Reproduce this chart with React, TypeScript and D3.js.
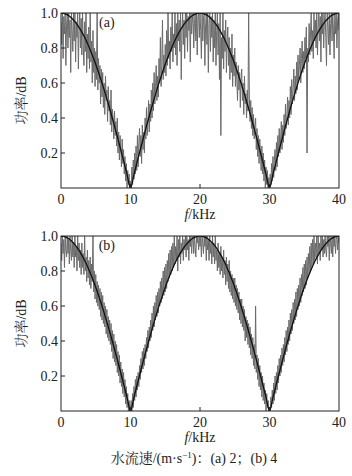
import React from "react";
import * as d3 from "d3";

const fSmooth = [
  0, 0.5, 1, 1.5, 2, 2.5, 3, 3.5, 4, 4.5, 5, 5.5, 6, 6.5, 7, 7.5, 8, 8.5, 9, 9.5, 10,
  10.5, 11, 11.5, 12, 12.5, 13, 13.5, 14, 14.5, 15, 15.5, 16, 16.5, 17, 17.5, 18, 18.5, 19, 19.5, 20,
  20.5, 21, 21.5, 22, 22.5, 23, 23.5, 24, 24.5, 25, 25.5, 26, 26.5, 27, 27.5, 28, 28.5, 29, 29.5, 30,
  30.5, 31, 31.5, 32, 32.5, 33, 33.5, 34, 34.5, 35, 35.5, 36, 36.5, 37, 37.5, 38, 38.5, 39, 39.5, 40,
];
const smoothValues = [
  1.0, 0.997, 0.988, 0.972, 0.951, 0.924, 0.891, 0.853, 0.809, 0.76, 0.707, 0.649, 0.588, 0.522, 0.454, 0.383, 0.309, 0.233, 0.156, 0.078, 0.0,
  0.078, 0.156, 0.233, 0.309, 0.383, 0.454, 0.522, 0.588, 0.649, 0.707, 0.76, 0.809, 0.853, 0.891, 0.924, 0.951, 0.972, 0.988, 0.997, 1.0,
  0.997, 0.988, 0.972, 0.951, 0.924, 0.891, 0.853, 0.809, 0.76, 0.707, 0.649, 0.588, 0.522, 0.454, 0.383, 0.309, 0.233, 0.156, 0.078, 0.0,
  0.078, 0.156, 0.233, 0.309, 0.383, 0.454, 0.522, 0.588, 0.649, 0.707, 0.76, 0.809, 0.853, 0.891, 0.924, 0.951, 0.972, 0.988, 0.997, 1.0,
];

// measured (noisy) spectra, sampled every 0.1 kHz from 0 to 40 kHz
const noisyA = [
  0.95, 0.82, 1.0, 0.74, 0.98, 0.88, 1.0, 0.7, 0.93, 1.0,
  0.8, 1.0, 0.86, 0.96, 0.66, 1.0, 0.9, 0.78, 1.0, 0.84,
  1.0, 0.72, 0.95, 0.86, 1.0, 0.68, 0.92, 1.0, 0.8, 0.97,
  0.76, 1.0, 0.82, 0.7, 0.95, 0.78, 1.0, 0.66, 0.88, 0.74,
  0.92, 0.68, 1.0, 0.72, 0.84, 0.6, 0.9, 0.66, 0.8, 0.58,
  0.78, 0.62, 1.0, 0.56, 0.74, 0.6, 0.7, 0.48, 0.68, 0.52,
  0.66, 0.46, 0.6, 0.42, 0.64, 0.5, 0.56, 0.38, 0.58, 0.44,
  0.5, 0.36, 0.56, 0.32, 0.45, 0.4, 0.28, 0.44, 0.3, 0.38,
  0.24, 0.4, 0.2, 0.32, 0.16, 0.3, 0.22, 0.12, 0.28, 0.14,
  0.22, 0.08, 0.18, 0.04, 0.14, 0.0, 0.1, 0.02, 0.08, 0.0,
  0.04, 0.0, 0.12, 0.02, 0.16, 0.05, 0.2, 0.08, 0.24, 0.1,
  0.3, 0.12, 0.26, 0.34, 0.18, 0.3, 0.14, 0.36, 0.22, 0.32,
  0.2, 0.4, 0.28, 0.46, 0.3, 0.36, 0.5, 0.32, 0.48, 0.38,
  0.56, 0.4, 0.6, 0.44, 0.66, 0.48, 0.58, 0.7, 0.5, 0.64,
  0.52, 0.74, 0.6, 0.86, 0.58, 0.7, 0.96, 0.62, 0.76, 0.66,
  0.82, 0.64, 0.9, 0.7, 1.0, 0.74, 0.84, 0.68, 0.92, 0.78,
  1.0, 0.72, 0.88, 0.8, 1.0, 0.76, 0.94, 0.7, 1.0, 0.84,
  0.96, 0.78, 1.0, 0.62, 0.9, 1.0, 0.82, 0.96, 0.74, 1.0,
  0.86, 1.0, 0.78, 0.98, 0.9, 1.0, 0.72, 1.0, 0.88, 0.96,
  1.0, 0.8, 0.94, 1.0, 0.84, 1.0, 0.76, 0.98, 1.0, 0.86,
  1.0, 0.9, 0.74, 1.0, 0.84, 0.96, 1.0, 0.7, 0.92, 1.0,
  0.82, 1.0, 0.66, 0.94, 1.0, 0.78, 0.98, 0.86, 1.0, 0.72,
  0.96, 0.8, 1.0, 0.7, 0.9, 1.0, 0.76, 0.94, 0.62, 1.0,
  0.3, 0.86, 0.74, 1.0, 0.68, 0.9, 0.78, 0.96, 0.66, 0.84,
  0.92, 0.7, 0.86, 0.62, 0.8, 0.66, 0.88, 0.58, 0.76, 0.64,
  0.8, 0.58, 0.72, 0.62, 0.5, 0.7, 0.56, 0.66, 0.46, 0.62,
  0.68, 0.5, 0.6, 0.42, 0.64, 0.48, 0.54, 0.4, 0.56, 0.44,
  1.0, 0.52, 0.38, 0.5, 0.34, 0.46, 0.3, 0.42, 0.28, 0.36,
  0.4, 0.22, 0.34, 0.18, 0.3, 0.14, 0.28, 0.2, 0.1, 0.24,
  0.08, 0.2, 0.04, 0.16, 0.0, 0.12, 0.02, 0.1, 0.0, 0.06,
  0.0, 0.08, 0.02, 0.14, 0.04, 0.18, 0.06, 0.16, 0.22, 0.1,
  0.26, 0.12, 0.3, 0.18, 0.34, 0.2, 0.28, 0.38, 0.22, 0.36,
  0.26, 0.42, 0.3, 0.48, 0.34, 0.4, 0.52, 0.36, 0.5, 0.4,
  0.58, 0.42, 0.62, 0.48, 0.56, 0.68, 0.5, 0.64, 0.54, 0.72,
  0.56, 0.76, 0.62, 0.7, 0.8, 0.6, 0.74, 0.84, 0.66, 0.78,
  0.68, 0.86, 0.74, 0.92, 0.2, 0.8, 0.72, 0.94, 0.76, 0.88,
  1.0, 0.78, 0.9, 0.74, 1.0, 0.84, 0.96, 0.8, 1.0, 0.76,
  0.92, 1.0, 0.84, 0.98, 0.72, 1.0, 0.88, 1.0, 0.8, 0.96,
  1.0, 0.86, 0.7, 1.0, 0.92, 0.82, 1.0, 0.76, 0.94, 1.0,
  0.84, 1.0, 0.9, 0.74, 1.0, 0.88, 1.0, 0.8, 0.96, 1.0,
  0.9,
];
const noisyB = [
  0.96, 0.86, 1.0, 0.9, 0.98, 0.82, 1.0, 0.92, 0.88, 1.0,
  0.9, 0.98, 0.84, 1.0, 0.92, 0.86, 1.0, 0.88, 0.96, 0.82,
  1.0, 0.88, 0.94, 0.8, 1.0, 0.86, 0.96, 0.82, 0.92, 0.78,
  0.96, 0.82, 0.9, 0.78, 1.0, 0.8, 0.88, 0.74, 0.92, 0.76,
  0.86, 0.72, 0.88, 0.7, 0.84, 0.74, 1.0, 0.68, 0.8, 0.64,
  0.78, 0.62, 0.74, 0.6, 0.72, 0.58, 0.7, 0.54, 0.68, 0.52,
  0.66, 0.5, 0.62, 0.48, 0.6, 0.44, 0.58, 0.42, 0.54, 0.4,
  0.52, 0.38, 0.5, 0.34, 0.46, 0.3, 0.44, 0.28, 0.4, 0.26,
  0.38, 0.22, 0.34, 0.2, 0.32, 0.16, 0.28, 0.14, 0.24, 0.1,
  0.22, 0.08, 0.18, 0.04, 0.14, 0.02, 0.1, 0.0, 0.06, 0.0,
  0.02, 0.06, 0.0, 0.1, 0.02, 0.14, 0.06, 0.18, 0.08, 0.2,
  0.12, 0.22, 0.14, 0.26, 0.18, 0.3, 0.22, 0.34, 0.24, 0.36,
  0.26, 0.38, 0.3, 0.42, 0.34, 0.46, 0.36, 0.48, 0.4, 0.52,
  0.42, 0.56, 0.46, 0.6, 0.48, 0.62, 0.52, 0.66, 0.54, 0.68,
  0.56, 0.7, 0.6, 0.74, 0.62, 0.76, 0.64, 0.8, 0.66, 0.82,
  0.68, 0.84, 0.7, 0.86, 0.74, 0.9, 0.76, 0.92, 0.78, 0.94,
  0.8, 0.96, 0.82, 1.0, 0.84, 0.94, 0.86, 1.0, 0.8, 0.98,
  0.88, 1.0, 0.84, 0.96, 0.9, 1.0, 0.86, 0.98, 0.92, 1.0,
  0.88, 1.0, 0.92, 0.98, 0.86, 1.0, 0.94, 1.0, 0.9, 0.98,
  1.0, 0.9, 1.0, 0.94, 0.88, 1.0, 0.96, 1.0, 0.92, 1.0,
  0.94, 1.0, 0.88, 1.0, 0.96, 0.9, 1.0, 0.94, 1.0, 0.86,
  1.0, 0.92, 0.98, 0.86, 1.0, 0.9, 0.96, 0.84, 1.0, 0.88,
  0.96, 0.84, 1.0, 0.86, 0.92, 0.8, 0.96, 0.82, 0.9, 0.78,
  0.94, 0.8, 0.88, 0.76, 0.92, 0.78, 0.86, 0.72, 0.88, 0.74,
  0.84, 0.7, 0.86, 0.68, 0.8, 0.66, 0.78, 0.64, 0.76, 0.62,
  0.76, 0.6, 0.72, 0.58, 0.7, 0.56, 0.68, 0.52, 0.64, 0.5,
  0.64, 0.48, 0.6, 0.46, 0.58, 0.4, 0.54, 0.42, 0.52, 0.38,
  0.5, 0.36, 0.48, 0.32, 0.44, 0.3, 0.42, 0.26, 0.38, 0.24,
  0.6, 0.22, 0.32, 0.18, 0.3, 0.14, 0.26, 0.12, 0.22, 0.08,
  0.2, 0.06, 0.16, 0.04, 0.12, 0.0, 0.1, 0.02, 0.06, 0.0,
  0.02, 0.0, 0.08, 0.02, 0.12, 0.04, 0.16, 0.06, 0.2, 0.1,
  0.22, 0.12, 0.26, 0.16, 0.3, 0.2, 0.32, 0.22, 0.36, 0.26,
  0.38, 0.28, 0.42, 0.32, 0.46, 0.34, 0.48, 0.38, 0.52, 0.4,
  0.56, 0.44, 0.58, 0.46, 0.62, 0.5, 0.64, 0.52, 0.68, 0.54,
  0.7, 0.58, 0.72, 0.6, 0.76, 0.62, 0.78, 0.66, 0.82, 0.68,
  0.84, 0.7, 0.86, 0.72, 0.88, 0.76, 0.9, 0.78, 0.94, 0.8,
  0.96, 0.82, 0.98, 0.84, 1.0, 0.86, 0.96, 0.88, 1.0, 0.84,
  1.0, 0.9, 0.96, 0.86, 1.0, 0.92, 1.0, 0.88, 0.98, 0.9,
  1.0, 0.92, 0.88, 1.0, 0.94, 1.0, 0.86, 1.0, 0.96, 0.9,
  1.0, 0.88, 1.0, 0.94, 1.0, 0.9, 0.98, 1.0, 0.92, 1.0,
  0.96,
];
const noiseStep = 0.1;

const xTicks = [0, 10, 20, 30, 40];
const yTicks = [0.2, 0.4, 0.6, 0.8, 1.0];
const panelLabels = ["(a)", "(b)"];
const yLabel = "功率/dB";
const caption = "水流速/(m·s";

const W = 352;
const H = 476;
const left = 61;
const right = 339;
const panels = [
  { top: 13, bottom: 188, noisy: noisyA, label: panelLabels[0] },
  { top: 236, bottom: 411, noisy: noisyB, label: panelLabels[1] },
];

const serif = '"Liberation Serif", "Times New Roman", "DejaVu Serif", serif';
const cjk = '"Liberation Serif", "Noto Serif CJK SC", "Noto Sans CJK SC", serif';

function Panel({ top, bottom, noisy, label, idx }: any) {
  const x = d3.scaleLinear().domain([0, 40]).range([left, right]);
  const y = d3.scaleLinear().domain([0, 1]).range([bottom, top]);
  const noisyLine = d3
    .line<number>()
    .x((_, i) => x(i * noiseStep))
    .y((d) => y(d));
  const smoothLine = d3
    .line<number>()
    .x((_, i) => x(fSmooth[i]))
    .y((d) => y(d))
    .curve(d3.curveMonotoneX);
  const clipId = `clip${idx}`;
  const tStyle = { fontFamily: serif, fontSize: 14 };
  return (
    <g>
      <defs>
        <clipPath id={clipId}>
          <rect x={left} y={top} width={right - left} height={bottom - top} />
        </clipPath>
      </defs>
      <g clipPath={`url(#${clipId})`}>
        <path d={noisyLine(noisy) || ""} fill="none" stroke="#6a6a6a" strokeWidth={1} />
        <path d={smoothLine(smoothValues) || ""} fill="none" stroke="#111" strokeWidth={1.3} />
      </g>
      <rect x={left} y={top} width={right - left} height={bottom - top} fill="none" stroke="#222" strokeWidth={1} />
      {xTicks.slice(1, -1).map((t) => (
        <line key={t} x1={x(t)} x2={x(t)} y1={bottom} y2={bottom - 4} stroke="#222" />
      ))}
      {yTicks.slice(0, -1).map((t) => (
        <line key={t} x1={left} x2={left + 4} y1={y(t)} y2={y(t)} stroke="#222" />
      ))}
      {xTicks.map((t) => (
        <text key={t} x={x(t)} y={bottom + 16} textAnchor="middle" style={tStyle} fill="#222">
          {t}
        </text>
      ))}
      {yTicks.map((t) => (
        <text key={t} x={left - 3} y={y(t) + 5} textAnchor="end" style={tStyle} fill="#222">
          {t.toFixed(1)}
        </text>
      ))}
      <text x={x(20)} y={bottom + 31} textAnchor="middle" style={tStyle} fill="#222">
        <tspan fontStyle="italic">f</tspan>/kHz
      </text>
      <text
        transform={`translate(${26},${(top + bottom) / 2}) rotate(-90)`}
        textAnchor="middle"
        style={{ fontFamily: cjk, fontSize: 14 }}
        fill="#222"
      >
        {yLabel}
      </text>
      <text x={x(6.6)} y={top + 14} textAnchor="middle" style={tStyle} fill="#222">
        {label}
      </text>
    </g>
  );
}

export default function App() {
  return (
    <svg width={W} height={H} style={{ position: "absolute", left: 0, top: 0, background: "#fff" }}>
      <rect width={W} height={H} fill="#fff" />
      {panels.map((p, i) => (
        <Panel key={i} idx={i} {...p} />
      ))}
      <text x={194} y={463} textAnchor="middle" style={{ fontFamily: cjk, fontSize: 14 }} fill="#222">
        {caption}
        <tspan dy={-5} fontSize={9}>−1</tspan>
        <tspan dy={5}>)：(a) 2；(b) 4</tspan>
      </text>
    </svg>
  );
}
